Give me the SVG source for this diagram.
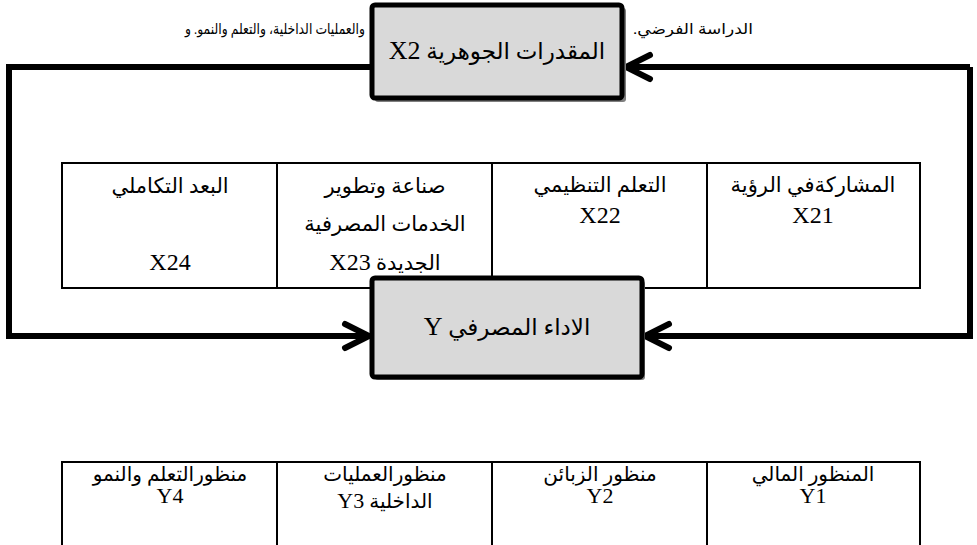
<svg xmlns="http://www.w3.org/2000/svg" width="977" height="545" viewBox="0 0 977 545">
<defs>
<style>
text{font-family:'Liberation Serif','DejaVu Sans',serif;fill:#000;direction:rtl}
.t{font-size:15px}
.b{font-size:23px}
.c{font-size:21px}
.d{font-size:20px}
.L{font-size:24px}
.Lb{font-size:26px}
.Ld{font-size:22px}
.box{fill:#d9d9d9;stroke:#000;stroke-width:5}
.sh{fill:#7f7f7f}
.loop{fill:none;stroke:#000;stroke-width:6;stroke-linejoin:miter}
.cell{fill:#fff;stroke:#000;stroke-width:2}
.ln{stroke:#000;stroke-width:2}
</style>
<marker id="chev" markerUnits="userSpaceOnUse" markerWidth="40" markerHeight="40" viewBox="-30 -20 40 40" refX="0" refY="0" orient="auto">
<path d="M -24,-12 L 0,0 L -24,12" fill="none" stroke="#000" stroke-width="6" stroke-linecap="round" stroke-linejoin="miter"/>
</marker>
</defs>
<g id="intro-text">
<text class="t" x="275" y="34" text-anchor="middle" textLength="180" lengthAdjust="spacingAndGlyphs">والعمليات الداخلية، والتعلم والنمو. و</text>
<text class="t" x="693" y="34" text-anchor="middle" textLength="120" lengthAdjust="spacingAndGlyphs">الدراسة الفرضي.</text>
</g>
<g id="connectors">
<path class="loop" d="M 372,67 H 9 V 336 H 369" marker-end="url(#chev)"/>
<path class="loop" d="M 970,67 V 336 H 645" marker-end="url(#chev)"/>
<path class="loop" d="M 970,67 H 626" marker-end="url(#chev)"/>
</g>
<g id="dimensions-table">
<rect class="cell" x="62" y="163" width="858" height="125"/>
<line class="ln" x1="277" y1="163" x2="277" y2="288"/>
<line class="ln" x1="492" y1="163" x2="492" y2="288"/>
<line class="ln" x1="707" y1="163" x2="707" y2="288"/>
<g id="X21">
<text class="c" x="813" y="192" text-anchor="middle">المشاركةفي الرؤية</text>
<text class="L" x="813" y="223" text-anchor="middle">X21</text>
</g>
<g id="X22">
<text class="c" x="600" y="192" text-anchor="middle">التعلم التنظيمي</text>
<text class="L" x="600" y="223" text-anchor="middle">X22</text>
</g>
<g id="X23">
<text class="c" x="385" y="193" text-anchor="middle">صناعة وتطوير</text>
<text class="c" x="385" y="231" text-anchor="middle">الخدمات المصرفية</text>
<text class="c" x="385" y="270" text-anchor="middle">الجديدة <tspan class="L">X23</tspan></text>
</g>
<g id="X24">
<text class="c" x="170" y="193" text-anchor="middle">البعد التكاملي</text>
<text class="L" x="170" y="270" text-anchor="middle">X24</text>
</g>
</g>
<g id="X2">
<rect class="sh" x="375" y="8" width="251" height="94" rx="3"/>
<rect class="box" x="372" y="5" width="250" height="93" rx="3"/>
<text class="b" x="497" y="59" text-anchor="middle">المقدرات الجوهرية <tspan class="Lb">X2</tspan></text>
</g>
<g id="Y">
<rect class="sh" x="375" y="281" width="270" height="99" rx="3"/>
<rect class="box" x="372" y="278" width="270" height="99" rx="3"/>
<text class="b" x="507" y="335" text-anchor="middle">الاداء المصرفي <tspan class="Lb">Y</tspan></text>
</g>
<g id="perspectives-table">
<line class="ln" x1="61" y1="462" x2="921" y2="462"/>
<line class="ln" x1="62" y1="462" x2="62" y2="545"/>
<line class="ln" x1="277" y1="462" x2="277" y2="545"/>
<line class="ln" x1="492" y1="462" x2="492" y2="545"/>
<line class="ln" x1="707" y1="462" x2="707" y2="545"/>
<line class="ln" x1="920" y1="462" x2="920" y2="545"/>
<g id="Y1">
<text class="d" x="813" y="481" text-anchor="middle">المنظور المالي</text>
<text class="Ld" x="813" y="503" text-anchor="middle">Y1</text>
</g>
<g id="Y2">
<text class="d" x="600" y="481" text-anchor="middle">منظور الزبائن</text>
<text class="Ld" x="600" y="503" text-anchor="middle">Y2</text>
</g>
<g id="Y3">
<text class="d" x="385" y="481" text-anchor="middle">منظورالعمليات</text>
<text class="d" x="385" y="508" text-anchor="middle">الداخلية <tspan class="Ld">Y3</tspan></text>
</g>
<g id="Y4">
<text class="d" x="170" y="481" text-anchor="middle">منظورالتعلم والنمو</text>
<text class="Ld" x="170" y="503" text-anchor="middle">Y4</text>
</g>
</g>
</svg>
